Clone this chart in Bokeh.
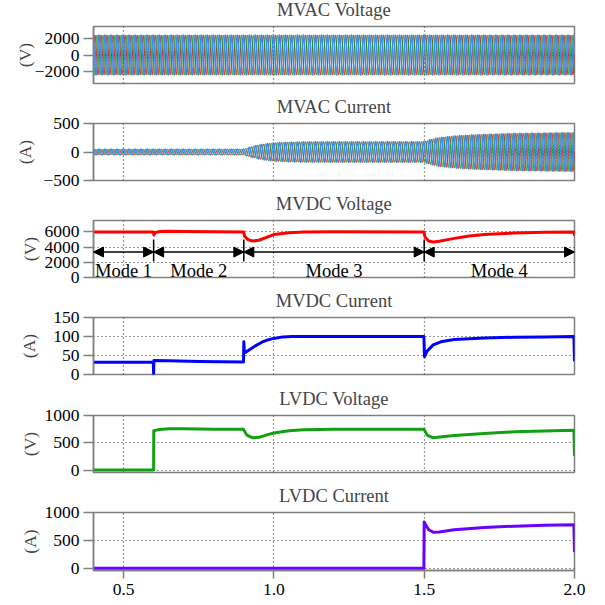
import numpy as np
from bokeh.plotting import figure
from bokeh.layouts import column
from bokeh.models import (Range1d, FixedTicker, Arrow, NormalHead,
                          ColumnDataSource, PrintfTickFormatter)
from bokeh.core.properties import value
from bokeh.embed import file_html
from bokeh.resources import INLINE

# ---------------- data ----------------
titles = ["MVAC Voltage", "MVAC Current", "MVDC Voltage",
          "MVDC Current", "LVDC Voltage", "LVDC Current"]
units = ["(V)", "(A)", "(V)", "(A)", "(V)", "(A)"]
x_ticks = [0.5, 1.0, 1.5, 2.0]
x_grid = [0.5, 1.0, 1.5]
y_ticks = [[-2000, 0, 2000], [-500, 0, 500], [0, 2000, 4000, 6000],
           [0, 50, 100, 150], [0, 500, 1000], [0, 500, 1000]]
y_grid = [[], [], [2000, 4000, 6000], [50, 100], [0, 500], [0, 500]]
y_lo = [-3500, -500, 0, 0, -45, -40]
y_hi = [3500, 500, 7500, 150, 1000, 1000]

# three-phase AC: grid frequency and envelope
ac_freq = 50.0
mvac_v_env_t = [0.4, 2.0]
mvac_v_env_a = [2450, 2450]
mvac_i_env_t = [0.4, 0.9, 0.92, 0.95, 0.98, 1.0, 1.05, 1.1, 1.2, 1.5,
                1.52, 1.55, 1.6, 1.65, 1.7, 1.8, 1.9, 2.0]
mvac_i_env_a = [50, 50, 85, 125, 150, 162, 174, 180, 182, 182,
                220, 255, 283, 300, 312, 328, 336, 342]

# DC quantities
mvdc_v_t = [0.4, 0.599, 0.601, 0.605, 0.62, 0.65, 0.7, 0.8, 0.899, 0.903,
            0.915, 0.93, 0.95, 0.98, 1.0, 1.05, 1.1, 1.2, 1.499, 1.503,
            1.515, 1.53, 1.55, 1.6, 1.65, 1.7, 1.8, 1.9, 1.998, 2.0]
mvdc_v = [6000, 6000, 5600, 5900, 6050, 6080, 6050, 6020, 6000, 5400,
          4950, 4800, 4900, 5350, 5650, 5900, 6000, 6020, 6000, 5300,
          4800, 4680, 4780, 5150, 5450, 5650, 5850, 5950, 6000, 5500]

mvdc_i_t = [0.4, 0.599, 0.6, 0.601, 0.65, 0.75, 0.899, 0.9, 0.902, 0.905,
            0.92, 0.94, 0.96, 0.98, 1.0, 1.03, 1.06, 1.499, 1.501, 1.51,
            1.53, 1.56, 1.6, 1.7, 1.8, 1.9, 1.998, 2.0]
mvdc_i = [32, 32, 0, 37, 36, 34, 33, 86, 57, 58,
          66, 76, 85, 91, 95, 99, 100, 100, 47, 62,
          78, 87, 92, 96, 98, 99, 100, 35]

lvdc_v_t = [0.4, 0.6, 0.6005, 0.62, 0.65, 0.7, 0.8, 0.899, 0.91, 0.93,
            0.95, 0.98, 1.0, 1.05, 1.1, 1.2, 1.499, 1.51, 1.53, 1.56,
            1.6, 1.7, 1.8, 1.9, 1.998, 2.0]
lvdc_v = [0, 0, 720, 745, 755, 758, 750, 748, 640, 590,
          600, 650, 680, 720, 740, 750, 750, 640, 590, 610,
          635, 672, 700, 718, 730, 260]

lvdc_i_t = [0.4, 1.499, 1.5, 1.505, 1.515, 1.53, 1.55, 1.6, 1.7, 1.8,
            1.9, 1.998, 2.0]
lvdc_i = [0, 0, 830, 780, 690, 645, 650, 690, 730, 755,
          772, 780, 290]

# mode annotations (MVDC voltage panel)
mode_labels = ["Mode 1", "Mode 2", "Mode 3", "Mode 4"]
mode_label_x = [0.5, 0.75, 1.2, 1.75]
mode_label_y = [900, 900, 900, 900]
mode_start = [0.4, 0.6, 0.9, 1.5]
mode_end = [0.6, 0.9, 1.5, 2.0]
mode_arrow_y = [3350, 3350, 3350, 3350]
sep_x = [0.6, 0.9, 1.5]
sep_y0 = [2100, 2100, 2100]
sep_y1 = [5000, 5000, 5000]

# ---------------- styling ----------------
FONT = "Liberation Serif"
FS = "17.5px"
TFS = "18.5px"
GRAY = "#808080"
TOP = 35
OVERLAP = 10
heights = [107, 107, 107, 108, 107, 129]
frame_h = [58, 58, 58, 58, 58, 59]
label_standoff = [-3, 5, 2, 11, 2, 2]

x_range = Range1d(0.4, 2.0)
figs = []
for i in range(6):
    last = (i == 5)
    p = figure(width=605, height=heights[i], x_range=x_range,
               y_range=Range1d(y_lo[i], y_hi[i]),
               output_backend="svg", toolbar_location=None,
               x_axis_location="below" if last else None,
               min_border_left=93, min_border_right=31, min_border_top=TOP,
               min_border_bottom=heights[i] - TOP - frame_h[i],
               styles={"margin-top": f"-{OVERLAP}px"})
    p.title.text = titles[i]
    p.title.text_font = FONT
    p.title.text_font_size = TFS
    p.title.text_font_style = "normal"
    p.title.align = "center"
    p.title.standoff = 14
    p.outline_line_color = GRAY
    p.outline_line_width = 1.5
    p.background_fill_color = "white"
    p.border_fill_color = None

    ya = p.yaxis[0]
    ya.ticker = FixedTicker(ticks=y_ticks[i])
    ya.axis_label = units[i]
    ya.axis_label_text_font = FONT
    ya.axis_label_text_font_size = FS
    ya.axis_label_text_font_style = "normal"
    ya.axis_label_standoff = label_standoff[i]
    ya.major_label_text_font = FONT
    ya.major_label_text_font_size = FS
    ya.major_label_text_color = "black"
    ya.major_label_standoff = 4
    ya.major_tick_out = 10
    ya.major_tick_in = 0
    ya.minor_tick_out = 0
    ya.minor_tick_in = 0
    ya.axis_line_color = GRAY
    ya.axis_line_width = 1.5
    ya.major_tick_line_color = GRAY
    ya.major_tick_line_width = 1.5

    if last:
        xa = p.xaxis[0]
        xa.ticker = FixedTicker(ticks=x_ticks)
        xa.formatter = PrintfTickFormatter(format="%.1f")
        xa.major_label_text_font = FONT
        xa.major_label_text_font_size = FS
        xa.major_label_text_color = "black"
        xa.major_label_standoff = 5
        xa.major_tick_out = 8
        xa.major_tick_in = 0
        xa.minor_tick_out = 0
        xa.minor_tick_in = 0
        xa.axis_line_color = GRAY
        xa.axis_line_width = 1.5
        xa.major_tick_line_color = GRAY
        xa.major_tick_line_width = 1.5

    p.xgrid.ticker = FixedTicker(ticks=x_grid)
    p.ygrid.ticker = FixedTicker(ticks=y_grid[i])
    for g in (p.xgrid[0], p.ygrid[0]):
        g.grid_line_color = "#333333"
        g.grid_line_dash = "1 3"
        g.grid_line_width = 1.2
    figs.append(p)

# ---- AC panels ----
t = np.linspace(0.4, 2.0, 6401)
phase_colors = ["#ff0000", "#00a818", "#3a8cf2"]
phase_widths = [1.0, 1.0, 1.5]
phase_shift = [0.0, -2.0 * np.pi / 3.0, 2.0 * np.pi / 3.0]
for idx, (et, ea) in ((0, (mvac_v_env_t, mvac_v_env_a)),
                      (1, (mvac_i_env_t, mvac_i_env_a))):
    env = np.interp(t, et, ea)
    for c, w, ph in zip(phase_colors, phase_widths, phase_shift):
        y = env * np.sin(2.0 * np.pi * ac_freq * t + ph)
        figs[idx].line(t, y, line_color=c, line_width=w)

# ---- MVDC voltage with mode annotations ----
p3 = figs[2]
p3.segment(x0=sep_x, y0=sep_y0, x1=sep_x, y1=sep_y1,
           line_color="black", line_width=1.5)
arrow_src = ColumnDataSource(dict(xs=mode_start, xe=mode_end,
                                  ys=mode_arrow_y, ye=mode_arrow_y))
p3.add_layout(Arrow(start=NormalHead(size=10, fill_color="black",
                                     line_color="black"),
                    end=NormalHead(size=10, fill_color="black",
                                   line_color="black"),
                    x_start="xs", y_start="ys", x_end="xe", y_end="ye",
                    source=arrow_src, line_color="black", line_width=1.5))
p3.text(x=mode_label_x, y=mode_label_y, text=mode_labels,
        text_font=value(FONT), text_font_size=value(TFS),
        text_align="center", text_baseline="middle", text_color="black")
p3.line(mvdc_v_t, mvdc_v, line_color="#ff0000", line_width=3,
        line_join="round")

figs[3].line(mvdc_i_t, mvdc_i, line_color="#0000ff", line_width=3,
             line_join="round")
figs[4].line(lvdc_v_t, lvdc_v, line_color="#12a012", line_width=3,
             line_join="round")
figs[5].line(lvdc_i_t, lvdc_i, line_color="#6a00ff", line_width=3,
             line_join="round")

layout = column(*figs, spacing=0)
open("out.html", "w").write(file_html(layout, INLINE))
